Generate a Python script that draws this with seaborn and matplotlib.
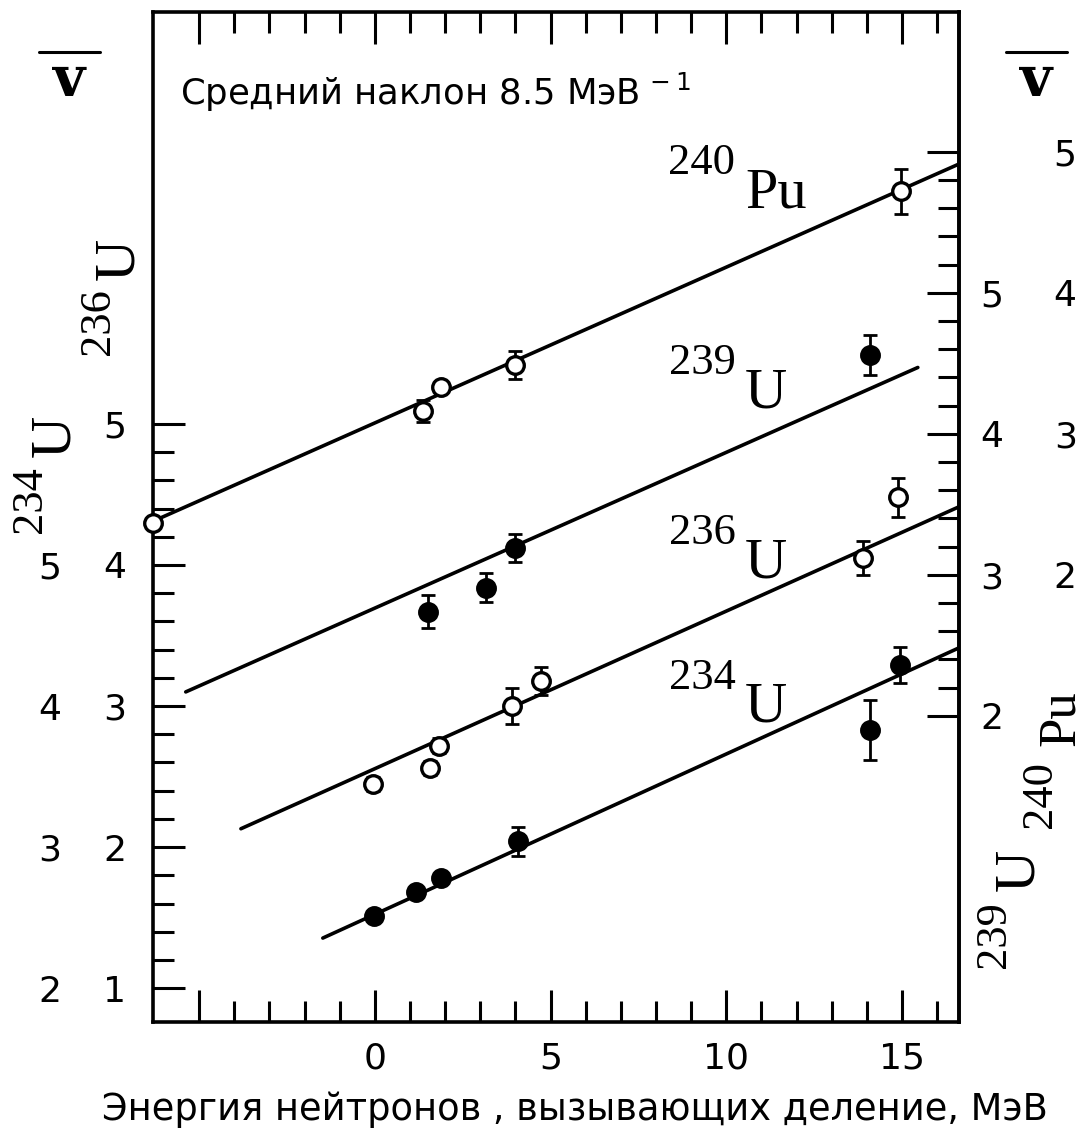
import numpy as np
import pandas as pd
import matplotlib
matplotlib.use("Agg")
import matplotlib.pyplot as plt
import seaborn as sns
from matplotlib.ticker import FixedLocator, FixedFormatter

# ---------------- data (x = neutron energy, MeV; y = nu on the 236U scale) -------------
pu240_E = [-6.3, 1.37, 1.88, 3.98, 14.96]
pu240_nu = [4.30, 5.09, 5.26, 5.42, 6.65]
pu240_err = [0.0, 0.08, 0.0, 0.10, 0.16]
pu240_line_E = [-6.4, 16.6]
pu240_line_nu = [4.30, 6.84]

u239_E = [1.51, 3.16, 3.98, 14.08]
u239_nu = [3.67, 3.84, 4.12, 5.49]
u239_err = [0.12, 0.10, 0.10, 0.14]
u239_line_E = [-5.38, 15.45]
u239_line_nu = [3.10, 5.40]

u236_E = [-0.06, 1.56, 1.82, 3.90, 4.72, 13.90, 14.88]
u236_nu = [2.45, 2.56, 2.72, 3.00, 3.18, 4.05, 4.48]
u236_err = [0.05, 0.05, 0.05, 0.13, 0.10, 0.12, 0.14]
u236_line_E = [-3.81, 16.6]
u236_line_nu = [2.13, 4.41]

u234_E = [-0.03, 1.17, 1.88, 4.07, 14.08, 14.94]
u234_nu = [1.51, 1.68, 1.78, 2.04, 2.83, 3.29]
u234_err = [0.03, 0.03, 0.03, 0.10, 0.21, 0.13]
u234_line_E = [-1.48, 16.6]
u234_line_nu = [1.355, 3.41]

x_major = [-5, 0, 5, 10, 15]
x_major_labels = ["", "0", "5", "10", "15"]
left_ticks = [1, 2, 3, 4, 5]
left_labels = ["1", "2", "3", "4", "5"]
left_outer_labels = ["2", "3", "4", "5"]
right_ticks = [2, 3, 4, 5, 6]
right_labels = ["2", "3", "4", "5", ""]
right_outer_labels = ["2", "3", "4", "5"]

# ---------------- style ----------------
sns.set_style("ticks")
plt.rcParams["font.family"] = ["DejaVu Sans"]
plt.rcParams["mathtext.fontset"] = "dejavusans"
for k in ("text.color", "axes.labelcolor", "xtick.color", "ytick.color",
          "axes.edgecolor", "xtick.labelcolor", "ytick.labelcolor"):
    plt.rcParams[k] = "black"

W, H = 1085, 1139
fig = plt.figure(figsize=(W / 100, H / 100), dpi=100)
fig.patch.set_facecolor("white")
L, R, T, B = 152.7, 959.3, 12, 1022
ax = fig.add_axes([L / W, 1 - B / H, (R - L) / W, (B - T) / H])
ax.set_facecolor("white")
ax.set_xlim(-6.32, 16.63)
ax.set_ylim(0.76, 7.92)

LW = 2.6
for s in ax.spines.values():
    s.set_linewidth(2.6)
    s.set_color("black")

series = [
    (pu240_E, pu240_nu, pu240_err, pu240_line_E, pu240_line_nu, "white"),
    (u239_E, u239_nu, u239_err, u239_line_E, u239_line_nu, "black"),
    (u236_E, u236_nu, u236_err, u236_line_E, u236_line_nu, "white"),
    (u234_E, u234_nu, u234_err, u234_line_E, u234_line_nu, "black"),
]
for E, nu, err, lE, lnu, face in series:
    dl = pd.DataFrame({"E": lE, "nu": lnu})
    sns.lineplot(data=dl, x="E", y="nu", ax=ax, color="black", lw=LW, zorder=2)
    ax.errorbar(E, nu, yerr=err, fmt="none", ecolor="black", elinewidth=2.0,
                capsize=5, capthick=2.0, zorder=3, clip_on=False)
    dp = pd.DataFrame({"E": E, "nu": nu})
    sns.scatterplot(data=dp, x="E", y="nu", ax=ax, s=160, color=face,
                    edgecolor="black", linewidth=2.4, zorder=4, clip_on=False)

ax.set_xlabel("")
ax.set_ylabel("")

# x ticks
ax.xaxis.set_major_locator(FixedLocator(x_major))
ax.xaxis.set_major_formatter(FixedFormatter(x_major_labels))
ax.xaxis.set_minor_locator(FixedLocator([v for v in range(-4, 17) if v % 5 != 0]))
ax.tick_params(axis="x", which="both", direction="in", top=True, bottom=True,
               labeltop=False, width=2.2, labelsize=26, pad=14, colors="black")
ax.tick_params(axis="x", which="major", length=23)
ax.tick_params(axis="x", which="minor", length=15)

# left (236U) ticks
ax.yaxis.set_major_locator(FixedLocator(left_ticks))
ax.yaxis.set_major_formatter(FixedFormatter(left_labels))
ax.yaxis.set_minor_locator(FixedLocator([round(1 + 0.2 * i, 2) for i in range(21) if i % 5 != 0]))
ax.tick_params(axis="y", which="both", direction="in", left=True, right=False,
               width=2.2, labelsize=26, pad=19, colors="black")
ax.tick_params(axis="y", which="major", length=23)
ax.tick_params(axis="y", which="minor", length=15)

# left outer (234U) labels
sl = ax.secondary_yaxis("left", functions=(lambda y: y + 1, lambda y: y - 1))
sl.yaxis.set_major_locator(FixedLocator([2, 3, 4, 5]))
sl.yaxis.set_major_formatter(FixedFormatter(left_outer_labels))
sl.yaxis.set_minor_locator(FixedLocator([]))
sl.tick_params(axis="y", length=0, labelsize=26, pad=66, colors="black")
sl.spines["left"].set_visible(False)

# right inner (239U) ticks
sr = ax.secondary_yaxis("right", functions=(lambda y: y - 0.93, lambda y: y + 0.93))
sr.yaxis.set_major_locator(FixedLocator(right_ticks))
sr.yaxis.set_major_formatter(FixedFormatter(right_labels))
sr.yaxis.set_minor_locator(FixedLocator([round(2 + 0.2 * i, 2) for i in range(21) if i % 5 != 0]))
sr.tick_params(axis="y", which="both", direction="in", width=2.2, labelsize=26, pad=15,
               colors="black")
sr.tick_params(axis="y", which="major", length=23)
sr.tick_params(axis="y", which="minor", length=15)
sr.spines["right"].set_linewidth(2.6)
sr.spines["right"].set_color("black")

# right outer (240Pu) labels
so = ax.secondary_yaxis("right", functions=(lambda y: y - 1.93, lambda y: y + 1.93))
so.yaxis.set_major_locator(FixedLocator([2, 3, 4, 5]))
so.yaxis.set_major_formatter(FixedFormatter(right_outer_labels))
so.yaxis.set_minor_locator(FixedLocator([]))
so.tick_params(axis="y", length=0, labelsize=26, pad=68, colors="black")
so.spines["right"].set_visible(False)

# ---------------- texts ----------------
def fx(px):
    return px / W

def fy(py):
    return 1 - py / H

fig.text(fx(575), fy(1110), "Энергия нейтронов , вызывающих деление, МэВ",
         ha="center", va="center", fontsize=26.5)
fig.text(fx(180), fy(92), "Средний наклон 8.5 МэВ$^{\\,-1}$", ha="left", va="center",
         fontsize=25.5)

# nu-bar symbols
for cx in (69, 1036):
    fig.text(fx(cx), fy(80), "v", ha="center", va="center", fontsize=40,
             fontweight="bold", family="DejaVu Serif")
    fig.add_artist(plt.Line2D([fx(cx - 30), fx(cx + 31)], [fy(52), fy(52)],
                              color="black", lw=2.2))

serif = "Liberation Serif"
# isotope labels inside the plot
iso = [("240", "Pu", 163, 207), ("239", "U", 363, 407), ("236", "U", 533, 577), ("234", "U", 678, 722)]
for mass, sym, ymid, ybase in iso:
    fig.text(fx(702), fy(ymid), mass, ha="center", va="center", fontsize=32, family=serif)
    fig.text(fx(745), fy(ybase), sym, ha="left", va="baseline", fontsize=42, family=serif)

# rotated scale names
def rot_label(mass, sym, x_mass, y_mass, x_sym, y_sym, size=42):
    fig.text(fx(x_mass), fy(y_mass), mass, ha="center", va="center", fontsize=32,
             family=serif, rotation=90)
    fig.text(fx(x_sym), fy(y_sym), sym, ha="center", va="center", fontsize=size,
             family=serif, rotation=90)

rot_label("234", "U", 30, 500, 55, 436)
rot_label("236", "U", 98, 322, 119, 259)
rot_label("239", "U", 994, 935, 1019, 870)
rot_label("240", "Pu", 1040, 795, 1061, 718, size=38)

fig.savefig("out.png", dpi=100, facecolor="white")
